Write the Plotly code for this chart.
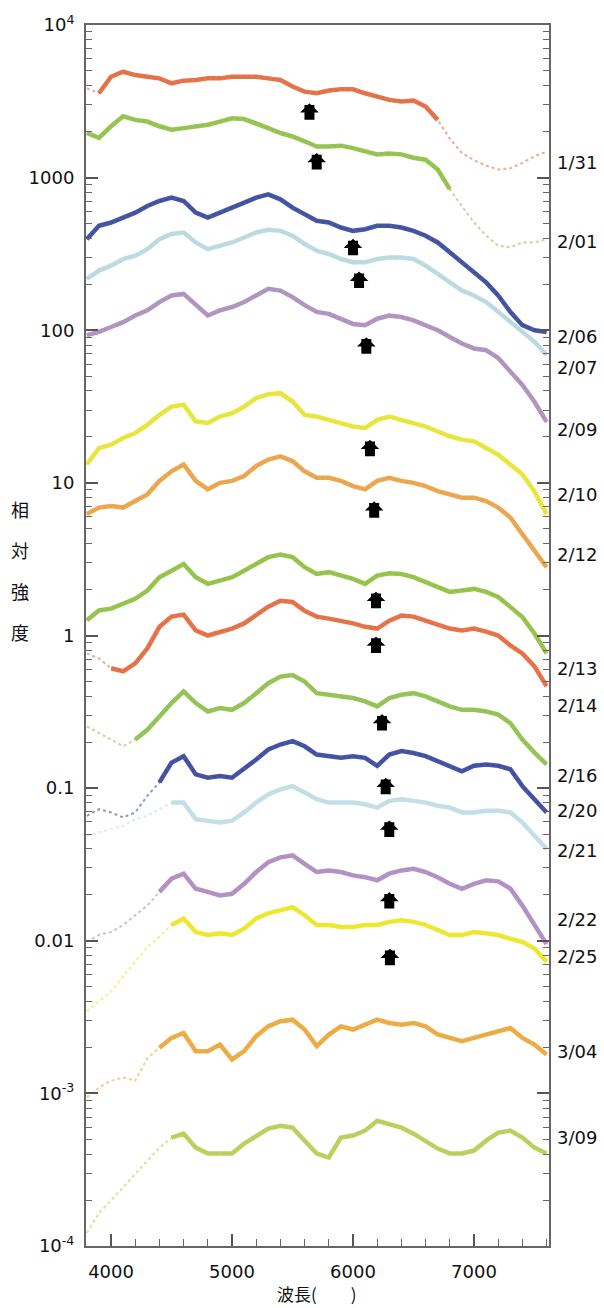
import math
import plotly.graph_objects as go

# ---------------- data ----------------
wavelength = [3800, 3900, 4000, 4100, 4200, 4300, 4400, 4500, 4600, 4700,
              4800, 4900, 5000, 5100, 5200, 5300, 5400, 5500, 5600, 5700,
              5800, 5900, 6000, 6100, 6200, 6300, 6400, 6500, 6600, 6700,
              6800, 6900, 7000, 7100, 7200, 7300, 7400, 7500, 7600]

dates = ["1/31", "2/01", "2/06", "2/07", "2/09", "2/10", "2/12", "2/13",
         "2/14", "2/16", "2/20", "2/21", "2/22", "2/25", "3/04", "3/09"]

s_0131 = [3850, 3570, 4580, 4940, 4700, 4580, 4470, 4150, 4320, 4360, 4470, 4470, 4580,
          4580, 4580, 4470, 4360, 3950, 3660, 3570, 3720, 3790, 3790, 3570, 3400, 3230,
          3150, 3200, 2920, 2390, 1800, 1450, 1300, 1200, 1130, 1150, 1250, 1380, 1480]
s_0201 = [1960, 1820, 2170, 2520, 2390, 2330, 2170, 2060, 2110, 2170, 2220, 2330, 2450,
          2420, 2280, 2110, 1960, 1860, 1730, 1600, 1600, 1620, 1560, 1490, 1420, 1440,
          1420, 1350, 1310, 1130, 840, 650, 510, 416, 358, 349, 376, 376, 395]
s_0206 = [395, 483, 508, 547, 590, 652, 703, 739, 703, 590, 547, 590, 636, 686, 739, 776,
          721, 636, 575, 521, 508, 471, 448, 459, 483, 483, 471, 448, 416, 376, 324, 279,
          240, 206, 169, 132, 108, 100, 97.5]
s_0207 = [217, 246, 265, 293, 308, 340, 395, 427, 437, 376, 340, 358, 376, 405, 437, 455,
          448, 416, 367, 332, 316, 293, 279, 279, 293, 300, 300, 293, 265, 234, 206, 182,
          169, 153, 132, 113, 97.5, 84, 69]
s_0209 = [92.8, 97.5, 105, 113, 125, 135, 153, 169, 173, 146, 125, 135, 142, 153, 169, 187,
          182, 165, 146, 132, 128, 119, 110, 108, 119, 125, 122, 116, 108, 100, 90.4, 81.9,
          76, 74, 65.7, 53.3, 43.8, 34, 25.1]
s_0210 = [13.2, 16.9, 17.8, 19.7, 21.2, 24.0, 27.9, 31.6, 32.5, 25.3, 24.7, 27.2, 28.6,
          31.6, 35.9, 38.1, 38.7, 34.1, 27.9, 27.2, 25.9, 24.7, 23.4, 22.9, 25.9, 27.2,
          25.9, 24.7, 23.4, 21.7, 20.2, 19.2, 18.7, 16.9, 15.3, 13.2, 11.4, 8.8, 6.24]
s_0212 = [6.24, 6.89, 7.06, 6.89, 7.61, 8.41, 10.3, 11.9, 13.2, 10.3, 9.07, 10.0, 10.3,
          11.1, 12.9, 14.2, 14.9, 13.9, 11.9, 10.8, 10.8, 10.3, 9.53, 9.07, 10.3, 10.8,
          10.3, 10.0, 9.53, 8.84, 8.41, 8.0, 8.0, 7.61, 6.89, 5.93, 4.62, 3.6, 2.8]
s_0213 = [1.26, 1.46, 1.5, 1.62, 1.74, 1.97, 2.41, 2.66, 2.94, 2.41, 2.18, 2.29, 2.41,
          2.66, 2.94, 3.26, 3.39, 3.26, 2.8, 2.53, 2.6, 2.47, 2.35, 2.18, 2.47, 2.56,
          2.53, 2.41, 2.24, 2.08, 1.93, 1.97, 2.02, 1.93, 1.79, 1.54, 1.32, 1.03, 0.763]
s_0214 = [0.763, 0.708, 0.61, 0.583, 0.657, 0.823, 1.14, 1.33, 1.37, 1.08, 1.0, 1.06, 1.11,
          1.2, 1.35, 1.545, 1.69, 1.66, 1.45, 1.33, 1.29, 1.25, 1.2, 1.14, 1.11, 1.25,
          1.35, 1.33, 1.25, 1.16, 1.11, 1.08, 1.11, 1.06, 1.0, 0.861, 0.763, 0.628, 0.465]
s_0216 = [0.254, 0.23, 0.208, 0.188, 0.208, 0.241, 0.295, 0.361, 0.43, 0.361, 0.318, 0.335,
          0.326, 0.361, 0.419, 0.487, 0.538, 0.551, 0.499, 0.419, 0.409, 0.399, 0.389,
          0.37, 0.343, 0.389, 0.409, 0.419, 0.399, 0.37, 0.343, 0.326, 0.326, 0.318,
          0.303, 0.267, 0.208, 0.171, 0.143]
s_0220 = [0.0659, 0.0728, 0.0693, 0.0643, 0.0693, 0.089, 0.109, 0.147, 0.162, 0.123, 0.117,
          0.12, 0.117, 0.133, 0.154, 0.179, 0.193, 0.203, 0.188, 0.166, 0.162, 0.158,
          0.162, 0.158, 0.14, 0.166, 0.175, 0.17, 0.162, 0.15, 0.14, 0.129, 0.14, 0.143,
          0.14, 0.133, 0.103, 0.0846, 0.0693]
s_0221 = [0.0488, 0.0513, 0.0539, 0.0567, 0.0626, 0.0659, 0.0728, 0.0804, 0.0804, 0.0626,
          0.0612, 0.0596, 0.0612, 0.0693, 0.0804, 0.0911, 0.0982, 0.103, 0.0935, 0.0846,
          0.0804, 0.0804, 0.0804, 0.0784, 0.0746, 0.0825, 0.0846, 0.0825, 0.0804, 0.0766,
          0.0746, 0.0693, 0.0693, 0.0711, 0.0711, 0.0693, 0.0596, 0.0488, 0.040]
s_0222 = [0.00985, 0.0109, 0.0114, 0.0127, 0.0147, 0.017, 0.0209, 0.0255, 0.0275, 0.0219,
          0.0209, 0.0198, 0.0203, 0.0236, 0.0282, 0.0327, 0.0352, 0.0362, 0.0319, 0.0282,
          0.0289, 0.0282, 0.0268, 0.0261, 0.0249, 0.0275, 0.0289, 0.0296, 0.0282, 0.0261,
          0.0236, 0.0219, 0.0236, 0.0249, 0.0245, 0.022, 0.017, 0.0125, 0.0095]
s_0225 = [0.00345, 0.004, 0.00465, 0.00583, 0.0073, 0.0091, 0.0106, 0.0127, 0.014, 0.0114,
          0.0109, 0.0112, 0.0109, 0.012, 0.014, 0.0151, 0.0158, 0.0166, 0.0147, 0.0127,
          0.0127, 0.0123, 0.0123, 0.0127, 0.0127, 0.0133, 0.0136, 0.0133, 0.0127, 0.0117,
          0.0109, 0.0109, 0.0114, 0.0112, 0.0109, 0.0103, 0.00985, 0.0089, 0.0073]
s_0304 = [0.00094, 0.00109, 0.00121, 0.00127, 0.00121, 0.0017, 0.00199, 0.00231, 0.00249,
          0.00189, 0.00189, 0.00209, 0.00167, 0.00189, 0.00237, 0.00275, 0.00297, 0.00304,
          0.00262, 0.00204, 0.00243, 0.00275, 0.00262, 0.00282, 0.00304, 0.00289, 0.00282,
          0.00289, 0.00275, 0.00243, 0.00231, 0.0022, 0.00231, 0.00243, 0.00255, 0.00268,
          0.00231, 0.00209, 0.0018]
s_0309 = [0.000122, 0.000164, 0.000199, 0.000243, 0.000299, 0.000363, 0.000441, 0.000513,
          0.000545, 0.000441, 0.000404, 0.000404, 0.000404, 0.000469, 0.000529, 0.000587,
          0.000614, 0.000596, 0.00049, 0.000404, 0.00038, 0.000513, 0.000529, 0.00057,
          0.000662, 0.000633, 0.000596, 0.000545, 0.00049, 0.000435, 0.000404, 0.000404,
          0.000422, 0.00049, 0.000553, 0.00057, 0.000513, 0.000441, 0.000404]

series = [s_0131, s_0201, s_0206, s_0207, s_0209, s_0210, s_0212, s_0213,
          s_0214, s_0216, s_0220, s_0221, s_0222, s_0225, s_0304, s_0309]

# arrows: feature wavelength and intensity at the arrow tip
arrow_wavelength = [5640, 5700, 6000, 6050, 6110, 6140, 6175, 6190, 6190,
                    6240, 6270, 6300, 6300, 6305]
arrow_intensity = [3071, 1451, 397.5, 242.3, 90.0, 19.2, 7.58, 1.935, 0.985,
                   0.3057, 0.117, 0.0614, 0.02085, 0.00887]

y_tick_values = [1e-4, 1e-3, 1e-2, 1e-1, 1, 10, 100, 1000, 1e4]
y_tick_text = ["10<sup>-4</sup>", "10<sup>-3</sup>", "0.01", "0.1", "1", "10", "100",
               "1000", "10<sup>4</sup>"]
x_tick_values = [4000, 5000, 6000, 7000]

# ---------------- style ----------------
colors = ["#E2683A", "#8DBF44", "#34469A", "#B7D7E0", "#AA8CBB", "#E6E42C",
          "#E9A040", "#8DBF3C", "#E4673A", "#8CBF4A", "#34449C", "#BFDCE6",
          "#AC88C0", "#ECE61E", "#ECA535", "#B2CF50"]
solid_from = [3900, 3800, 3800, 3800, 3800, 3800, 3800, 3800,
              4000, 4200, 4400, 4500, 4400, 4500, 4400, 4500]
solid_to = [6750, 6800, 7600, 7600, 7600, 7600, 7600, 7600,
            7600, 7600, 7600, 7600, 7600, 7600, 7600, 7600]
label_py = [156, 236, 331, 362, 425, 490, 551, 665, 702, 773, 808, 848, 918, 955, 1050, 1137]

W, H = 604, 1308
L_PX, R_PX, T_PX, B_PX = 86, 549, 18, 1246
FONT = "DejaVu Sans, Liberation Sans, Arial, sans-serif"
CJK = "Noto Sans CJK JP, sans-serif"


def px_to_paper_x(px):
    return (px - L_PX) / (R_PX - L_PX)


def px_to_paper_y(py):
    return (B_PX - py) / (B_PX - T_PX)


fig = go.Figure()
for i, vals in enumerate(series):
    fig.add_trace(go.Scatter(
        x=wavelength, y=vals, mode="lines",
        line=dict(color=colors[i], width=2, dash="dot"),
        opacity=0.55, showlegend=False, hoverinfo="skip"))
    xs = [w for w in wavelength if solid_from[i] <= w <= solid_to[i]]
    ys = [v for w, v in zip(wavelength, vals) if solid_from[i] <= w <= solid_to[i]]
    fig.add_trace(go.Scatter(
        x=xs, y=ys, mode="lines",
        line=dict(color=colors[i], width=4.5),
        opacity=0.9, name=dates[i], showlegend=False))

annotations = []
for w, v in zip(arrow_wavelength, arrow_intensity):
    annotations.append(dict(
        x=w, y=math.log10(v), xref="x", yref="y", text="",
        showarrow=True, arrowhead=1, arrowwidth=10, arrowsize=0.31,
        arrowcolor="black", ax=0, ay=18))

for d, py in zip(dates, label_py):
    annotations.append(dict(
        x=px_to_paper_x(555), y=px_to_paper_y(py), xref="paper", yref="paper",
        text=d, showarrow=False, xanchor="left", yanchor="middle",
        font=dict(family=FONT, size=18, color="#111")))

for ch, py in zip(["相", "対", "強", "度"], [505, 546, 587, 628]):
    annotations.append(dict(
        x=px_to_paper_x(20), y=px_to_paper_y(py), xref="paper", yref="paper",
        text=ch, showarrow=False, xanchor="center", yanchor="middle",
        font=dict(family=CJK, size=18, color="#111")))

annotations.append(dict(
    x=px_to_paper_x(317), y=px_to_paper_y(1294), xref="paper", yref="paper",
    text="波長(　　)", showarrow=False, xanchor="center", yanchor="middle",
    font=dict(family=CJK, size=17, color="#111")))

y_minor = [m * 10.0 ** k for k in range(-4, 4) for m in range(2, 10)]

fig.update_layout(
    width=W, height=H,
    margin=dict(l=L_PX, r=W - R_PX, t=T_PX, b=H - B_PX, pad=0),
    paper_bgcolor="white", plot_bgcolor="white",
    annotations=annotations,
    xaxis=dict(
        range=[3793, 7620], tickvals=x_tick_values, ticks="inside", ticklen=12,
        tickwidth=1.5, tickcolor="#555", showline=True, linecolor="#666",
        linewidth=2, mirror=True, showgrid=False, zeroline=False,
        ticklabelstandoff=8,
        tickfont=dict(family=FONT, size=18, color="#111"),
        minor=dict(dtick=200, tick0=3800, ticks="inside", ticklen=7,
                   tickwidth=1.2, tickcolor="#666", showgrid=False)),
    yaxis=dict(
        type="log", range=[-4, 4], tickvals=y_tick_values, ticktext=y_tick_text,
        ticks="inside", ticklen=12, tickwidth=1.5, tickcolor="#555",
        showline=True, linecolor="#666", linewidth=2, mirror="ticks",
        showgrid=False, zeroline=False, ticklabelstandoff=6,
        tickfont=dict(family=FONT, size=18, color="#111"),
        minor=dict(tickvals=y_minor, ticks="inside", ticklen=6, tickwidth=1.2,
                   tickcolor="#666", showgrid=False)),
)

fig.write_html("out.html")
